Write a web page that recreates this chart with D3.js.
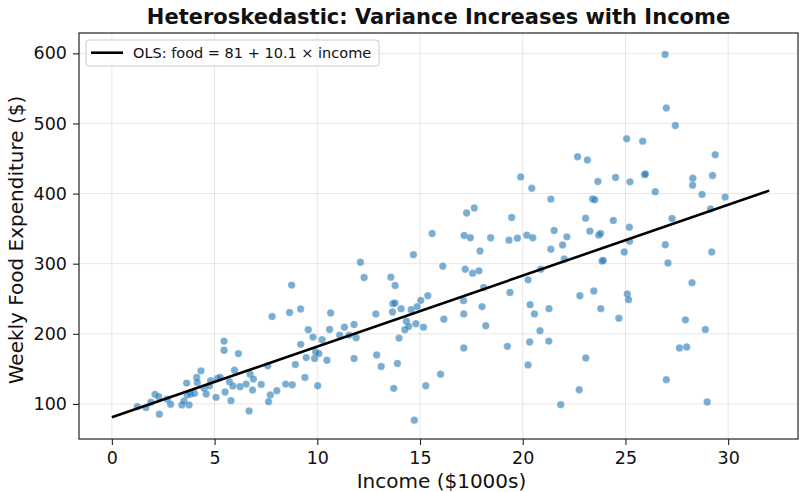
<html>
<head>
  <meta charset="utf-8">
  <style>
    body { margin: 0; background: #fff; }
    text { font-family: "DejaVu Sans", sans-serif; fill: #111; }
  </style>
</head>
<body>
  <svg></svg>
  <script src="https://d3js.org/d3.v7.min.js"></script>
  <script>
    // income ($1000s) and weekly food expenditure ($)
    let income = [
      1.24, 1.66, 1.90, 2.10, 2.28, 2.31, 2.70, 2.86, 3.41, 3.51, 3.64, 3.76, 3.67, 4.02, 3.84, 4.13, 4.16, 4.34, 4.49, 4.59,
      4.75, 4.81, 5.07, 5.14, 5.27, 5.46, 5.46, 5.51, 5.72, 5.80, 5.89, 5.97, 6.16, 6.24, 6.54, 6.68, 6.73, 6.85, 6.89, 7.27,
      7.63, 7.59, 7.71, 7.80, 8.03, 8.46, 8.65, 8.75, 8.78, 8.93, 9.19, 9.19, 9.40, 9.46, 9.56, 9.79, 9.87, 9.92, 10.02, 10.08,
      10.23, 10.47, 10.60, 10.65, 11.09, 11.32, 11.55, 11.79, 11.79, 11.89, 12.10, 12.28, 12.85, 12.89, 13.11, 13.58, 13.79, 13.66, 13.68, 13.78,
      13.72, 13.90, 13.98, 14.08, 14.26, 14.34, 14.45, 14.57, 14.68, 14.72, 14.80, 14.86, 15.04, 15.17, 15.28, 15.38, 16.00, 16.11, 16.16, 17.12,
      17.13, 17.13, 17.20, 17.56, 17.87, 17.92, 18.02, 18.10, 18.20, 19.25, 19.38, 20.26, 20.26, 20.34, 20.36, 20.57, 20.84, 20.88, 21.28, 21.27,
      21.37, 21.85, 15.59, 17.15, 17.27, 17.45, 17.64, 18.44, 19.33, 19.46, 19.74, 19.90, 20.20, 20.44, 20.49, 21.37, 21.53,
      22.15, 22.67, 23.06, 23.15, 23.27, 23.40, 23.51, 23.66, 23.70, 23.79, 24.41, 24.52, 25.06, 25.22, 25.19, 25.84, 25.93, 25.97, 26.45, 26.93,
      26.99, 27.27, 27.43, 28.28, 28.27, 28.73, 29.14, 29.24, 29.37, 29.85,
      21.94, 22.02, 22.78, 23.07, 22.75, 23.46, 23.80, 23.86, 23.92, 24.68, 24.94, 25.09, 25.15, 25.20, 26.94, 27.07, 28.24, 27.92, 28.89, 27.63,
      27.98, 26.99, 28.98, 29.20
    ];
    let food = [
      96.2, 94.8, 102.4, 113.7, 110.4, 85.4, 106.6, 99.5, 98.6, 104.2, 129.7, 98.6, 112.7, 115.1, 114.2, 137.8, 130.7, 147.2, 122.2, 114.2,
      125.9, 133.0, 109.4, 136.4, 137.8, 189.6, 176.5, 117.0, 131.6, 104.7, 125.5, 148.1, 171.8, 124.5, 128.3, 90.1, 142.5, 119.8, 135.4, 127.9,
      103.3, 154.3, 112.7, 224.6, 118.9, 128.3, 230.3, 269.5, 127.3, 156.2, 235.5, 185.0, 137.8, 166.1, 205.8, 195.3, 164.7, 174.1, 125.9, 171.8,
      191.6, 162.3, 206.2, 229.8, 198.2, 209.5, 198.2, 213.3, 164.7, 194.4, 302.1, 280.3, 228.4, 169.8, 153.4, 280.8, 269.0, 231.2, 243.0, 244.0,
      122.2, 157.6, 193.9, 235.9, 205.8, 218.0, 210.4, 234.5, 312.9, 76.9, 214.3, 238.8, 247.7, 209.5, 125.9, 254.3, 142.5, 296.4, 220.8, 247.3,
      228.4, 179.7, 292.1, 286.5, 289.8, 318.1, 238.8, 266.1, 211.4, 182.1, 259.1, 277.0, 155.7, 188.3, 241.6, 228.4, 204.4, 292.1, 235.9, 189.6,
      320.5, 99.0, 343.1, 340.3, 372.3, 336.9, 379.4, 336.9, 333.6, 365.8, 336.4, 423.8, 340.7, 407.7, 336.9, 392.1, 347.3,
      338.3, 452.6, 364.8, 447.9, 346.4, 392.2, 391.3, 417.2, 340.7, 343.1, 361.5, 422.9, 478.1, 416.7, 352.0, 474.8, 427.0, 428.0, 402.6, 598.4,
      522.0, 364.4, 497.0, 421.9, 412.0, 398.8, 378.0, 425.7, 455.4, 395.0,
      326.6, 306.7, 254.3, 165.6, 120.3, 261.0, 235.9, 303.9, 304.5, 222.2, 316.7, 256.7, 248.7, 332.0, 327.0, 301.1, 272.8, 219.9, 206.2, 179.7,
      181.2, 134.4, 102.8, 316.7
    ];

    // fitted line (from the legend) and the span it is drawn over
    let olsIntercept = 81, olsSlope = 10.1;
    let lineIncome = [0, 32];

    let xTicks = [0, 5, 10, 15, 20, 25, 30];
    let yTicks = [100, 200, 300, 400, 500, 600];

    let width = 799, height = 492;
    let margin = {top: 33, right: 1, bottom: 53, left: 79};

    let svg = d3.select("svg")
        .attr("width", width)
        .attr("height", height)
        .style("display", "block");

    let x = d3.scaleLinear().domain([-1.6, 33.4]).range([margin.left, width - margin.right]);
    let y = d3.scaleLinear().domain([50, 629]).range([height - margin.bottom, margin.top]);

    // grid
    svg.append("g")
        .selectAll("line.gx")
        .data(xTicks)
        .enter()
        .append("line")
        .attr("x1", d => x(d)).attr("x2", d => x(d))
        .attr("y1", margin.top).attr("y2", height - margin.bottom)
        .attr("stroke", "#b0b0b0").attr("stroke-opacity", 0.3).attr("stroke-width", 1);
    svg.append("g")
        .selectAll("line.gy")
        .data(yTicks)
        .enter()
        .append("line")
        .attr("y1", d => y(d)).attr("y2", d => y(d))
        .attr("x1", margin.left).attr("x2", width - margin.right)
        .attr("stroke", "#b0b0b0").attr("stroke-opacity", 0.3).attr("stroke-width", 1);

    // points
    let pts = income.map((v, i) => ({income: v, food: food[i]}));
    svg.append("g")
        .selectAll("circle")
        .data(pts)
        .enter()
        .append("circle")
        .attr("cx", d => x(d.income))
        .attr("cy", d => y(d.food))
        .attr("r", 3.7)
        .attr("fill", "#1f77b4")
        .attr("fill-opacity", 0.6)
        .attr("stroke", "#ffffff")
        .attr("stroke-opacity", 0.5)
        .attr("stroke-width", 0.4);

    // OLS line
    svg.append("line")
        .attr("x1", x(lineIncome[0])).attr("y1", y(olsIntercept + olsSlope * lineIncome[0]))
        .attr("x2", x(lineIncome[1])).attr("y2", y(olsIntercept + olsSlope * lineIncome[1]))
        .attr("stroke", "#000").attr("stroke-width", 2.6);

    // axes
    let xAxis = svg.append("g")
        .attr("transform", "translate(0," + (height - margin.bottom) + ")")
        .call(d3.axisBottom(x).tickValues(xTicks).tickSize(6).tickPadding(7).tickFormat(d3.format("d")));
    let yAxis = svg.append("g")
        .attr("transform", "translate(" + margin.left + ",0)")
        .call(d3.axisLeft(y).tickValues(yTicks).tickSize(6).tickPadding(6).tickFormat(d3.format("d")));
    [xAxis, yAxis].forEach(a => {
      a.select(".domain").remove();
      a.selectAll(".tick line").attr("stroke", "#222").attr("stroke-width", 1.1);
      a.selectAll(".tick text").style("font-size", "17.5px").style("font-family", "DejaVu Sans").attr("fill", "#111");
    });

    // frame
    svg.append("rect")
        .attr("x", margin.left).attr("y", margin.top)
        .attr("width", width - margin.left - margin.right)
        .attr("height", height - margin.top - margin.bottom)
        .attr("fill", "none").attr("stroke", "#222").attr("stroke-width", 1.2);

    // title & labels
    svg.append("text")
        .attr("x", (margin.left + width - margin.right) / 2).attr("y", 23.5)
        .attr("text-anchor", "middle")
        .style("font-size", "21px").style("font-weight", "bold")
        .text("Heteroskedastic: Variance Increases with Income");
    svg.append("text")
        .attr("x", (margin.left + width - margin.right) / 2 + 3).attr("y", 488)
        .attr("text-anchor", "middle")
        .style("font-size", "20px")
        .text("Income ($1000s)");
    svg.append("text")
        .attr("transform", "translate(23,240) rotate(-90)")
        .attr("text-anchor", "middle")
        .style("font-size", "20px")
        .text("Weekly Food Expenditure ($)");

    // legend
    let lg = svg.append("g").attr("transform", "translate(86,40)");
    lg.append("rect")
        .attr("width", 293).attr("height", 26).attr("rx", 3)
        .attr("fill", "#fff").attr("fill-opacity", 0.8)
        .attr("stroke", "#ccc").attr("stroke-width", 1);
    lg.append("line")
        .attr("x1", 5).attr("x2", 37).attr("y1", 12.7).attr("y2", 12.7)
        .attr("stroke", "#000").attr("stroke-width", 2.6);
    lg.append("text")
        .attr("x", 47).attr("y", 18)
        .style("font-size", "14.5px")
        .text("OLS: food = " + olsIntercept + " + " + olsSlope + " × income");
  </script>
</body>
</html>
